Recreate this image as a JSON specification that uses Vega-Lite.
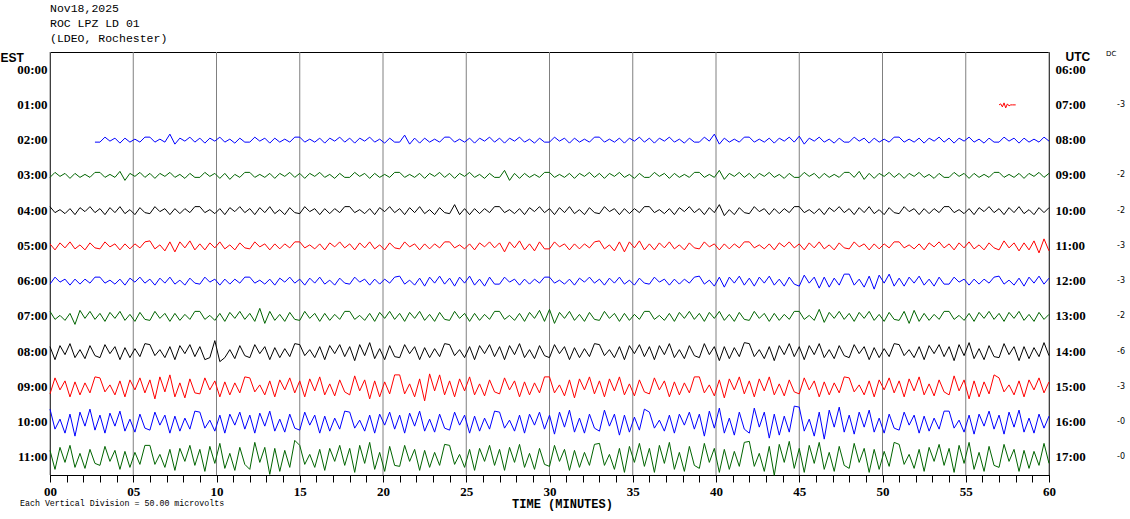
{
"$schema": "https://vega.github.io/schema/vega-lite/v6.json",
"width": 999, "height": 423,
"autosize": {"type": "none"},
"padding": {"left": 50, "top": 52, "right": 81, "bottom": 44},
"background": "white",
"config": {"view": {"stroke": "black", "strokeWidth": 1}},
"title": {"text": ["Nov18,2025", "ROC LPZ LD 01", "(LDEO, Rochester)"], "anchor": "start", "frame": "group", "font": "Liberation Mono", "fontSize": 11.5, "fontWeight": "normal", "lineHeight": 15, "offset": 5, "color": "black"},
"datasets": {
"grid": [{"t":0},{"t":5},{"t":10},{"t":15},{"t":20},{"t":25},{"t":30},{"t":35},{"t":40},{"t":45},{"t":50},{"t":55},{"t":60}],
"r1": [{"t":57,"v":0},{"t":57.1,"v":1},{"t":57.2,"v":-2},{"t":57.3,"v":2},{"t":57.4,"v":-3},{"t":57.5,"v":1},{"t":57.6,"v":-1},{"t":57.7,"v":0},{"t":57.8,"v":0},{"t":58,"v":0}],
"r2": [{"t":2.7,"v":-2},
{"t":3,"v":-2},{"t":3.3,"v":3},{"t":3.6,"v":-1},{"t":3.9,"v":2},{"t":4.2,"v":-3},{"t":4.5,"v":2},{"t":4.8,"v":-2},{"t":5.1,"v":1},{"t":5.4,"v":-2},{"t":5.7,"v":3},
{"t":6,"v":3},{"t":6.3,"v":-2},{"t":6.6,"v":1},{"t":6.9,"v":-2},{"t":7.2,"v":6},{"t":7.5,"v":-4},{"t":7.8,"v":2},{"t":8.1,"v":-1},{"t":8.4,"v":3},{"t":8.7,"v":-2},
{"t":9,"v":2},{"t":9.3,"v":-3},{"t":9.6,"v":2},{"t":9.9,"v":-1},{"t":10.2,"v":3},{"t":10.5,"v":-2},{"t":10.8,"v":1},{"t":11.1,"v":-3},{"t":11.4,"v":2},{"t":11.7,"v":-2},
{"t":12,"v":-2},{"t":12.3,"v":3},{"t":12.6,"v":-1},{"t":12.9,"v":2},{"t":13.2,"v":-3},{"t":13.5,"v":2},{"t":13.8,"v":-2},{"t":14.1,"v":1},{"t":14.4,"v":-2},{"t":14.7,"v":3},
{"t":15,"v":3},{"t":15.3,"v":-2},{"t":15.6,"v":1},{"t":15.9,"v":-2},{"t":16.2,"v":2},{"t":16.5,"v":-3},{"t":16.8,"v":2},{"t":17.1,"v":-1},{"t":17.4,"v":3},{"t":17.7,"v":-2},
{"t":18,"v":2},{"t":18.3,"v":-3},{"t":18.6,"v":2},{"t":18.9,"v":-1},{"t":19.2,"v":3},{"t":19.5,"v":-2},{"t":19.8,"v":1},{"t":20.1,"v":-3},{"t":20.4,"v":2},{"t":20.7,"v":-2},
{"t":21,"v":-2},{"t":21.3,"v":5},{"t":21.6,"v":-4},{"t":21.9,"v":2},{"t":22.2,"v":-3},{"t":22.5,"v":2},{"t":22.8,"v":-2},{"t":23.1,"v":1},{"t":23.4,"v":-2},{"t":23.7,"v":3},
{"t":24,"v":3},{"t":24.3,"v":-2},{"t":24.6,"v":1},{"t":24.9,"v":-2},{"t":25.2,"v":2},{"t":25.5,"v":-3},{"t":25.8,"v":2},{"t":26.1,"v":-1},{"t":26.4,"v":3},{"t":26.7,"v":-2},
{"t":27,"v":2},{"t":27.3,"v":-3},{"t":27.6,"v":2},{"t":27.9,"v":-1},{"t":28.2,"v":3},{"t":28.5,"v":-2},{"t":28.8,"v":1},{"t":29.1,"v":-3},{"t":29.4,"v":2},{"t":29.7,"v":-2},
{"t":30,"v":-2},{"t":30.3,"v":3},{"t":30.6,"v":-1},{"t":30.9,"v":2},{"t":31.2,"v":-3},{"t":31.5,"v":2},{"t":31.8,"v":-2},{"t":32.1,"v":1},{"t":32.4,"v":-2},{"t":32.7,"v":3},
{"t":33,"v":3},{"t":33.3,"v":-2},{"t":33.6,"v":1},{"t":33.9,"v":-2},{"t":34.2,"v":2},{"t":34.5,"v":-3},{"t":34.8,"v":2},{"t":35.1,"v":-1},{"t":35.4,"v":3},{"t":35.7,"v":-2},
{"t":36,"v":2},{"t":36.3,"v":-3},{"t":36.6,"v":2},{"t":36.9,"v":-1},{"t":37.2,"v":3},{"t":37.5,"v":-2},{"t":37.8,"v":1},{"t":38.1,"v":-3},{"t":38.4,"v":2},{"t":38.7,"v":-2},
{"t":39,"v":-2},{"t":39.3,"v":3},{"t":39.6,"v":-1},{"t":39.9,"v":6},{"t":40.2,"v":-4},{"t":40.5,"v":2},{"t":40.8,"v":-2},{"t":41.1,"v":1},{"t":41.4,"v":-2},{"t":41.7,"v":3},
{"t":42,"v":3},{"t":42.3,"v":-2},{"t":42.6,"v":1},{"t":42.9,"v":-2},{"t":43.2,"v":2},{"t":43.5,"v":-3},{"t":43.8,"v":2},{"t":44.1,"v":-1},{"t":44.4,"v":3},{"t":44.7,"v":-2},
{"t":45,"v":4},{"t":45.3,"v":-4},{"t":45.6,"v":2},{"t":45.9,"v":-1},{"t":46.2,"v":3},{"t":46.5,"v":-2},{"t":46.8,"v":1},{"t":47.1,"v":-3},{"t":47.4,"v":2},{"t":47.7,"v":-2},
{"t":48,"v":-2},{"t":48.3,"v":3},{"t":48.6,"v":-1},{"t":48.9,"v":2},{"t":49.2,"v":-3},{"t":49.5,"v":2},{"t":49.8,"v":-2},{"t":50.1,"v":1},{"t":50.4,"v":-2},{"t":50.7,"v":3},
{"t":51,"v":3},{"t":51.3,"v":-2},{"t":51.6,"v":1},{"t":51.9,"v":-2},{"t":52.2,"v":2},{"t":52.5,"v":-3},{"t":52.8,"v":2},{"t":53.1,"v":-1},{"t":53.4,"v":3},{"t":53.7,"v":-2},
{"t":54,"v":2},{"t":54.3,"v":-3},{"t":54.6,"v":2},{"t":54.9,"v":-1},{"t":55.2,"v":3},{"t":55.5,"v":-2},{"t":55.8,"v":1},{"t":56.1,"v":-3},{"t":56.4,"v":2},{"t":56.7,"v":-2},
{"t":57,"v":-2},{"t":57.3,"v":3},{"t":57.6,"v":-1},{"t":57.9,"v":2},{"t":58.2,"v":-3},{"t":58.5,"v":2},{"t":58.8,"v":-2},{"t":59.1,"v":1},{"t":59.4,"v":-2},{"t":59.7,"v":3},
{"t":60,"v":-1}],
"r3": [
{"t":0,"v":-2},{"t":0.3,"v":3},{"t":0.6,"v":-1},{"t":0.9,"v":2},{"t":1.2,"v":-3},{"t":1.5,"v":2},{"t":1.8,"v":-2},{"t":2.1,"v":1},{"t":2.4,"v":-2},{"t":2.7,"v":3},
{"t":3,"v":3},{"t":3.3,"v":-2},{"t":3.6,"v":1},{"t":3.9,"v":-2},{"t":4.2,"v":4},{"t":4.5,"v":-5},{"t":4.8,"v":2},{"t":5.1,"v":-1},{"t":5.4,"v":3},{"t":5.7,"v":-2},
{"t":6,"v":2},{"t":6.3,"v":-3},{"t":6.6,"v":2},{"t":6.9,"v":-1},{"t":7.2,"v":3},{"t":7.5,"v":-2},{"t":7.8,"v":1},{"t":8.1,"v":-3},{"t":8.4,"v":2},{"t":8.7,"v":-2},
{"t":9,"v":-2},{"t":9.3,"v":3},{"t":9.6,"v":-1},{"t":9.9,"v":2},{"t":10.2,"v":-3},{"t":10.5,"v":2},{"t":10.8,"v":-4},{"t":11.1,"v":1},{"t":11.4,"v":-2},{"t":11.7,"v":3},
{"t":12,"v":3},{"t":12.3,"v":-2},{"t":12.6,"v":1},{"t":12.9,"v":-2},{"t":13.2,"v":2},{"t":13.5,"v":-3},{"t":13.8,"v":2},{"t":14.1,"v":-1},{"t":14.4,"v":3},{"t":14.7,"v":-2},
{"t":15,"v":2},{"t":15.3,"v":-3},{"t":15.6,"v":2},{"t":15.9,"v":-1},{"t":16.2,"v":3},{"t":16.5,"v":-2},{"t":16.8,"v":1},{"t":17.1,"v":-3},{"t":17.4,"v":2},{"t":17.7,"v":-2},
{"t":18,"v":-2},{"t":18.3,"v":3},{"t":18.6,"v":-1},{"t":18.9,"v":2},{"t":19.2,"v":-3},{"t":19.5,"v":2},{"t":19.8,"v":-2},{"t":20.1,"v":1},{"t":20.4,"v":-2},{"t":20.7,"v":3},
{"t":21,"v":3},{"t":21.3,"v":-2},{"t":21.6,"v":1},{"t":21.9,"v":-2},{"t":22.2,"v":2},{"t":22.5,"v":-3},{"t":22.8,"v":2},{"t":23.1,"v":-1},{"t":23.4,"v":3},{"t":23.7,"v":-2},
{"t":24,"v":2},{"t":24.3,"v":-3},{"t":24.6,"v":2},{"t":24.9,"v":-1},{"t":25.2,"v":3},{"t":25.5,"v":-2},{"t":25.8,"v":1},{"t":26.1,"v":-3},{"t":26.4,"v":2},{"t":26.7,"v":-2},
{"t":27,"v":-2},{"t":27.3,"v":5},{"t":27.6,"v":-5},{"t":27.9,"v":2},{"t":28.2,"v":-3},{"t":28.5,"v":2},{"t":28.8,"v":-2},{"t":29.1,"v":1},{"t":29.4,"v":-2},{"t":29.7,"v":3},
{"t":30,"v":3},{"t":30.3,"v":-2},{"t":30.6,"v":1},{"t":30.9,"v":-2},{"t":31.2,"v":2},{"t":31.5,"v":-3},{"t":31.8,"v":2},{"t":32.1,"v":-1},{"t":32.4,"v":3},{"t":32.7,"v":-2},
{"t":33,"v":2},{"t":33.3,"v":-3},{"t":33.6,"v":2},{"t":33.9,"v":-1},{"t":34.2,"v":3},{"t":34.5,"v":-2},{"t":34.8,"v":1},{"t":35.1,"v":-3},{"t":35.4,"v":2},{"t":35.7,"v":-2},
{"t":36,"v":-2},{"t":36.3,"v":3},{"t":36.6,"v":-1},{"t":36.9,"v":2},{"t":37.2,"v":-3},{"t":37.5,"v":2},{"t":37.8,"v":-2},{"t":38.1,"v":1},{"t":38.4,"v":-2},{"t":38.7,"v":3},
{"t":39,"v":3},{"t":39.3,"v":-2},{"t":39.6,"v":1},{"t":39.9,"v":-2},{"t":40.2,"v":5},{"t":40.5,"v":-4},{"t":40.8,"v":2},{"t":41.1,"v":-1},{"t":41.4,"v":3},{"t":41.7,"v":-2},
{"t":42,"v":2},{"t":42.3,"v":-3},{"t":42.6,"v":2},{"t":42.9,"v":-1},{"t":43.2,"v":3},{"t":43.5,"v":-2},{"t":43.8,"v":1},{"t":44.1,"v":-3},{"t":44.4,"v":2},{"t":44.7,"v":-2},
{"t":45,"v":-2},{"t":45.3,"v":3},{"t":45.6,"v":-1},{"t":45.9,"v":2},{"t":46.2,"v":-3},{"t":46.5,"v":2},{"t":46.8,"v":-2},{"t":47.1,"v":1},{"t":47.4,"v":-2},{"t":47.7,"v":3},
{"t":48,"v":3},{"t":48.3,"v":-2},{"t":48.6,"v":4},{"t":48.9,"v":-4},{"t":49.2,"v":2},{"t":49.5,"v":-3},{"t":49.8,"v":2},{"t":50.1,"v":-1},{"t":50.4,"v":3},{"t":50.7,"v":-2},
{"t":51,"v":2},{"t":51.3,"v":-3},{"t":51.6,"v":2},{"t":51.9,"v":-1},{"t":52.2,"v":3},{"t":52.5,"v":-2},{"t":52.8,"v":1},{"t":53.1,"v":-3},{"t":53.4,"v":2},{"t":53.7,"v":-2},
{"t":54,"v":-2},{"t":54.3,"v":3},{"t":54.6,"v":-1},{"t":54.9,"v":2},{"t":55.2,"v":-3},{"t":55.5,"v":2},{"t":55.8,"v":-2},{"t":56.1,"v":1},{"t":56.4,"v":-2},{"t":56.7,"v":3},
{"t":57,"v":3},{"t":57.3,"v":-2},{"t":57.6,"v":1},{"t":57.9,"v":-2},{"t":58.2,"v":2},{"t":58.5,"v":-3},{"t":58.8,"v":2},{"t":59.1,"v":-1},{"t":59.4,"v":3},{"t":59.7,"v":-2},
{"t":60,"v":2}],
"r4": [
{"t":0,"v":4},{"t":0.3,"v":-2},{"t":0.6,"v":1},{"t":0.9,"v":-3},{"t":1.2,"v":2},{"t":1.5,"v":-4},{"t":1.8,"v":3},{"t":2.1,"v":-1},{"t":2.4,"v":4},{"t":2.7,"v":-2},
{"t":3,"v":2},{"t":3.3,"v":-4},{"t":3.6,"v":3},{"t":3.9,"v":-2},{"t":4.2,"v":4},{"t":4.5,"v":-3},{"t":4.8,"v":1},{"t":5.1,"v":-4},{"t":5.4,"v":3},{"t":5.7,"v":-2},
{"t":6,"v":-3},{"t":6.3,"v":4},{"t":6.6,"v":-1},{"t":6.9,"v":2},{"t":7.2,"v":-4},{"t":7.5,"v":2},{"t":7.8,"v":-3},{"t":8.1,"v":2},{"t":8.4,"v":-2},{"t":8.7,"v":4},
{"t":9,"v":4},{"t":9.3,"v":-2},{"t":9.6,"v":1},{"t":9.9,"v":-3},{"t":10.2,"v":2},{"t":10.5,"v":-4},{"t":10.8,"v":3},{"t":11.1,"v":-1},{"t":11.4,"v":4},{"t":11.7,"v":-2},
{"t":12,"v":2},{"t":12.3,"v":-4},{"t":12.6,"v":3},{"t":12.9,"v":-2},{"t":13.2,"v":4},{"t":13.5,"v":-3},{"t":13.8,"v":1},{"t":14.1,"v":-4},{"t":14.4,"v":3},{"t":14.7,"v":-2},
{"t":15,"v":-3},{"t":15.3,"v":4},{"t":15.6,"v":-1},{"t":15.9,"v":2},{"t":16.2,"v":-4},{"t":16.5,"v":2},{"t":16.8,"v":-3},{"t":17.1,"v":2},{"t":17.4,"v":-2},{"t":17.7,"v":4},
{"t":18,"v":4},{"t":18.3,"v":-2},{"t":18.6,"v":1},{"t":18.9,"v":-3},{"t":19.2,"v":2},{"t":19.5,"v":-4},{"t":19.8,"v":3},{"t":20.1,"v":-1},{"t":20.4,"v":4},{"t":20.7,"v":-2},
{"t":21,"v":2},{"t":21.3,"v":-4},{"t":21.6,"v":3},{"t":21.9,"v":-2},{"t":22.2,"v":4},{"t":22.5,"v":-3},{"t":22.8,"v":1},{"t":23.1,"v":-4},{"t":23.4,"v":3},{"t":23.7,"v":-2},
{"t":24,"v":-3},{"t":24.3,"v":6},{"t":24.6,"v":-4},{"t":24.9,"v":2},{"t":25.2,"v":-4},{"t":25.5,"v":2},{"t":25.8,"v":-3},{"t":26.1,"v":2},{"t":26.4,"v":-2},{"t":26.7,"v":4},
{"t":27,"v":4},{"t":27.3,"v":-2},{"t":27.6,"v":1},{"t":27.9,"v":-3},{"t":28.2,"v":2},{"t":28.5,"v":-4},{"t":28.8,"v":3},{"t":29.1,"v":-1},{"t":29.4,"v":4},{"t":29.7,"v":-2},
{"t":30,"v":2},{"t":30.3,"v":-4},{"t":30.6,"v":3},{"t":30.9,"v":-2},{"t":31.2,"v":4},{"t":31.5,"v":-3},{"t":31.8,"v":1},{"t":32.1,"v":-4},{"t":32.4,"v":3},{"t":32.7,"v":-2},
{"t":33,"v":-3},{"t":33.3,"v":4},{"t":33.6,"v":-1},{"t":33.9,"v":2},{"t":34.2,"v":-4},{"t":34.5,"v":2},{"t":34.8,"v":-3},{"t":35.1,"v":2},{"t":35.4,"v":-2},{"t":35.7,"v":4},
{"t":36,"v":4},{"t":36.3,"v":-2},{"t":36.6,"v":1},{"t":36.9,"v":-3},{"t":37.2,"v":2},{"t":37.5,"v":-4},{"t":37.8,"v":3},{"t":38.1,"v":-1},{"t":38.4,"v":4},{"t":38.7,"v":-2},
{"t":39,"v":2},{"t":39.3,"v":-4},{"t":39.6,"v":3},{"t":39.9,"v":-2},{"t":40.2,"v":6},{"t":40.5,"v":-5},{"t":40.8,"v":1},{"t":41.1,"v":-4},{"t":41.4,"v":3},{"t":41.7,"v":-2},
{"t":42,"v":-3},{"t":42.3,"v":4},{"t":42.6,"v":-1},{"t":42.9,"v":2},{"t":43.2,"v":-4},{"t":43.5,"v":2},{"t":43.8,"v":-3},{"t":44.1,"v":2},{"t":44.4,"v":-2},{"t":44.7,"v":4},
{"t":45,"v":4},{"t":45.3,"v":-2},{"t":45.6,"v":1},{"t":45.9,"v":-3},{"t":46.2,"v":2},{"t":46.5,"v":-4},{"t":46.8,"v":3},{"t":47.1,"v":-1},{"t":47.4,"v":4},{"t":47.7,"v":-2},
{"t":48,"v":2},{"t":48.3,"v":-4},{"t":48.6,"v":3},{"t":48.9,"v":-2},{"t":49.2,"v":4},{"t":49.5,"v":-3},{"t":49.8,"v":1},{"t":50.1,"v":-4},{"t":50.4,"v":3},{"t":50.7,"v":-2},
{"t":51,"v":-3},{"t":51.3,"v":4},{"t":51.6,"v":-1},{"t":51.9,"v":2},{"t":52.2,"v":-4},{"t":52.5,"v":2},{"t":52.8,"v":-3},{"t":53.1,"v":2},{"t":53.4,"v":-2},{"t":53.7,"v":4},
{"t":54,"v":4},{"t":54.3,"v":-2},{"t":54.6,"v":1},{"t":54.9,"v":-3},{"t":55.2,"v":2},{"t":55.5,"v":-4},{"t":55.8,"v":3},{"t":56.1,"v":-1},{"t":56.4,"v":4},{"t":56.7,"v":-2},
{"t":57,"v":2},{"t":57.3,"v":-4},{"t":57.6,"v":3},{"t":57.9,"v":-2},{"t":58.2,"v":4},{"t":58.5,"v":-3},{"t":58.8,"v":1},{"t":59.1,"v":-4},{"t":59.4,"v":3},{"t":59.7,"v":-2},
{"t":60,"v":3}],
"r5": [
{"t":0,"v":2},{"t":0.3,"v":-4},{"t":0.6,"v":3},{"t":0.9,"v":-2},{"t":1.2,"v":4},{"t":1.5,"v":-3},{"t":1.8,"v":1},{"t":2.1,"v":-4},{"t":2.4,"v":3},{"t":2.7,"v":-2},
{"t":3,"v":-3},{"t":3.3,"v":4},{"t":3.6,"v":-1},{"t":3.9,"v":2},{"t":4.2,"v":-4},{"t":4.5,"v":2},{"t":4.8,"v":-3},{"t":5.1,"v":2},{"t":5.4,"v":-2},{"t":5.7,"v":4},
{"t":6,"v":5},{"t":6.3,"v":-3},{"t":6.6,"v":1},{"t":6.9,"v":-5},{"t":7.2,"v":4},{"t":7.5,"v":-6},{"t":7.8,"v":4},{"t":8.1,"v":-2},{"t":8.4,"v":5},{"t":8.7,"v":-4},
{"t":9,"v":2},{"t":9.3,"v":-4},{"t":9.6,"v":3},{"t":9.9,"v":-2},{"t":10.2,"v":4},{"t":10.5,"v":-3},{"t":10.8,"v":1},{"t":11.1,"v":-4},{"t":11.4,"v":3},{"t":11.7,"v":-2},
{"t":12,"v":-3},{"t":12.3,"v":4},{"t":12.6,"v":-1},{"t":12.9,"v":2},{"t":13.2,"v":-4},{"t":13.5,"v":2},{"t":13.8,"v":-3},{"t":14.1,"v":2},{"t":14.4,"v":-2},{"t":14.7,"v":4},
{"t":15,"v":4},{"t":15.3,"v":-2},{"t":15.6,"v":1},{"t":15.9,"v":-3},{"t":16.2,"v":2},{"t":16.5,"v":-4},{"t":16.8,"v":3},{"t":17.1,"v":-1},{"t":17.4,"v":4},{"t":17.7,"v":-2},
{"t":18,"v":2},{"t":18.3,"v":-4},{"t":18.6,"v":3},{"t":18.9,"v":-2},{"t":19.2,"v":4},{"t":19.5,"v":-3},{"t":19.8,"v":1},{"t":20.1,"v":-4},{"t":20.4,"v":3},{"t":20.7,"v":-2},
{"t":21,"v":-3},{"t":21.3,"v":4},{"t":21.6,"v":-1},{"t":21.9,"v":2},{"t":22.2,"v":-4},{"t":22.5,"v":2},{"t":22.8,"v":-3},{"t":23.1,"v":2},{"t":23.4,"v":-2},{"t":23.7,"v":4},
{"t":24,"v":4},{"t":24.3,"v":-2},{"t":24.6,"v":1},{"t":24.9,"v":-3},{"t":25.2,"v":2},{"t":25.5,"v":-4},{"t":25.8,"v":3},{"t":26.1,"v":-1},{"t":26.4,"v":4},{"t":26.7,"v":-2},
{"t":27,"v":3},{"t":27.3,"v":-6},{"t":27.6,"v":4},{"t":27.9,"v":-2},{"t":28.2,"v":5},{"t":28.5,"v":-4},{"t":28.8,"v":2},{"t":29.1,"v":-5},{"t":29.4,"v":4},{"t":29.7,"v":-3},
{"t":30,"v":-3},{"t":30.3,"v":4},{"t":30.6,"v":-1},{"t":30.9,"v":2},{"t":31.2,"v":-4},{"t":31.5,"v":2},{"t":31.8,"v":-3},{"t":32.1,"v":2},{"t":32.4,"v":-2},{"t":32.7,"v":4},
{"t":33,"v":5},{"t":33.3,"v":-3},{"t":33.6,"v":1},{"t":33.9,"v":-5},{"t":34.2,"v":4},{"t":34.5,"v":-6},{"t":34.8,"v":4},{"t":35.1,"v":-2},{"t":35.4,"v":5},{"t":35.7,"v":-4},
{"t":36,"v":2},{"t":36.3,"v":-4},{"t":36.6,"v":3},{"t":36.9,"v":-2},{"t":37.2,"v":4},{"t":37.5,"v":-3},{"t":37.8,"v":1},{"t":38.1,"v":-4},{"t":38.4,"v":3},{"t":38.7,"v":-2},
{"t":39,"v":-3},{"t":39.3,"v":4},{"t":39.6,"v":-1},{"t":39.9,"v":2},{"t":40.2,"v":-4},{"t":40.5,"v":2},{"t":40.8,"v":-3},{"t":41.1,"v":2},{"t":41.4,"v":-2},{"t":41.7,"v":4},
{"t":42,"v":4},{"t":42.3,"v":-2},{"t":42.6,"v":1},{"t":42.9,"v":-3},{"t":43.2,"v":2},{"t":43.5,"v":-4},{"t":43.8,"v":3},{"t":44.1,"v":-1},{"t":44.4,"v":4},{"t":44.7,"v":-2},
{"t":45,"v":2},{"t":45.3,"v":-4},{"t":45.6,"v":3},{"t":45.9,"v":-2},{"t":46.2,"v":4},{"t":46.5,"v":-3},{"t":46.8,"v":1},{"t":47.1,"v":-4},{"t":47.4,"v":3},{"t":47.7,"v":-2},
{"t":48,"v":-3},{"t":48.3,"v":4},{"t":48.6,"v":-1},{"t":48.9,"v":2},{"t":49.2,"v":-4},{"t":49.5,"v":2},{"t":49.8,"v":-3},{"t":50.1,"v":2},{"t":50.4,"v":-2},{"t":50.7,"v":4},
{"t":51,"v":4},{"t":51.3,"v":-2},{"t":51.6,"v":1},{"t":51.9,"v":-3},{"t":52.2,"v":2},{"t":52.5,"v":-4},{"t":52.8,"v":3},{"t":53.1,"v":-1},{"t":53.4,"v":4},{"t":53.7,"v":-2},
{"t":54,"v":2},{"t":54.3,"v":-4},{"t":54.6,"v":3},{"t":54.9,"v":-2},{"t":55.2,"v":4},{"t":55.5,"v":-3},{"t":55.8,"v":1},{"t":56.1,"v":-4},{"t":56.4,"v":3},{"t":56.7,"v":-2},
{"t":57,"v":-4},{"t":57.3,"v":5},{"t":57.6,"v":-2},{"t":57.9,"v":3},{"t":58.2,"v":-5},{"t":58.5,"v":3},{"t":58.8,"v":-4},{"t":59.1,"v":5},{"t":59.4,"v":-7},{"t":59.7,"v":7},
{"t":60,"v":-5}],
"r6": [
{"t":0,"v":-3},{"t":0.3,"v":4},{"t":0.6,"v":-1},{"t":0.9,"v":2},{"t":1.2,"v":-4},{"t":1.5,"v":2},{"t":1.8,"v":-3},{"t":2.1,"v":2},{"t":2.4,"v":-2},{"t":2.7,"v":4},
{"t":3,"v":4},{"t":3.3,"v":-2},{"t":3.6,"v":1},{"t":3.9,"v":-3},{"t":4.2,"v":2},{"t":4.5,"v":-4},{"t":4.8,"v":3},{"t":5.1,"v":-1},{"t":5.4,"v":4},{"t":5.7,"v":-2},
{"t":6,"v":2},{"t":6.3,"v":-4},{"t":6.6,"v":3},{"t":6.9,"v":-2},{"t":7.2,"v":4},{"t":7.5,"v":-3},{"t":7.8,"v":1},{"t":8.1,"v":-4},{"t":8.4,"v":3},{"t":8.7,"v":-2},
{"t":9,"v":-3},{"t":9.3,"v":4},{"t":9.6,"v":-1},{"t":9.9,"v":2},{"t":10.2,"v":-4},{"t":10.5,"v":2},{"t":10.8,"v":-3},{"t":11.1,"v":2},{"t":11.4,"v":-2},{"t":11.7,"v":4},
{"t":12,"v":4},{"t":12.3,"v":-2},{"t":12.6,"v":1},{"t":12.9,"v":-3},{"t":13.2,"v":2},{"t":13.5,"v":-4},{"t":13.8,"v":3},{"t":14.1,"v":-1},{"t":14.4,"v":4},{"t":14.7,"v":-2},
{"t":15,"v":2},{"t":15.3,"v":-4},{"t":15.6,"v":3},{"t":15.9,"v":-2},{"t":16.2,"v":4},{"t":16.5,"v":-3},{"t":16.8,"v":1},{"t":17.1,"v":-4},{"t":17.4,"v":3},{"t":17.7,"v":-2},
{"t":18,"v":-3},{"t":18.3,"v":4},{"t":18.6,"v":-1},{"t":18.9,"v":2},{"t":19.2,"v":-4},{"t":19.5,"v":2},{"t":19.8,"v":-3},{"t":20.1,"v":2},{"t":20.4,"v":-2},{"t":20.7,"v":4},
{"t":21,"v":5},{"t":21.3,"v":-3},{"t":21.6,"v":1},{"t":21.9,"v":-4},{"t":22.2,"v":3},{"t":22.5,"v":-5},{"t":22.8,"v":4},{"t":23.1,"v":-2},{"t":23.4,"v":5},{"t":23.7,"v":-3},
{"t":24,"v":3},{"t":24.3,"v":-5},{"t":24.6,"v":4},{"t":24.9,"v":-2},{"t":25.2,"v":5},{"t":25.5,"v":-4},{"t":25.8,"v":2},{"t":26.1,"v":-5},{"t":26.4,"v":4},{"t":26.7,"v":-3},
{"t":27,"v":-3},{"t":27.3,"v":4},{"t":27.6,"v":-1},{"t":27.9,"v":2},{"t":28.2,"v":-4},{"t":28.5,"v":2},{"t":28.8,"v":-3},{"t":29.1,"v":2},{"t":29.4,"v":-2},{"t":29.7,"v":4},
{"t":30,"v":4},{"t":30.3,"v":-2},{"t":30.6,"v":1},{"t":30.9,"v":-3},{"t":31.2,"v":2},{"t":31.5,"v":-4},{"t":31.8,"v":3},{"t":32.1,"v":-1},{"t":32.4,"v":4},{"t":32.7,"v":-2},
{"t":33,"v":2},{"t":33.3,"v":-4},{"t":33.6,"v":3},{"t":33.9,"v":-2},{"t":34.2,"v":4},{"t":34.5,"v":-3},{"t":34.8,"v":1},{"t":35.1,"v":-4},{"t":35.4,"v":3},{"t":35.7,"v":-2},
{"t":36,"v":-3},{"t":36.3,"v":4},{"t":36.6,"v":-1},{"t":36.9,"v":2},{"t":37.2,"v":-4},{"t":37.5,"v":2},{"t":37.8,"v":-3},{"t":38.1,"v":2},{"t":38.4,"v":-2},{"t":38.7,"v":4},
{"t":39,"v":5},{"t":39.3,"v":-3},{"t":39.6,"v":1},{"t":39.9,"v":-5},{"t":40.2,"v":4},{"t":40.5,"v":-6},{"t":40.8,"v":4},{"t":41.1,"v":-2},{"t":41.4,"v":5},{"t":41.7,"v":-4},
{"t":42,"v":3},{"t":42.3,"v":-5},{"t":42.6,"v":4},{"t":42.9,"v":-2},{"t":43.2,"v":5},{"t":43.5,"v":-4},{"t":43.8,"v":2},{"t":44.1,"v":-5},{"t":44.4,"v":4},{"t":44.7,"v":-3},
{"t":45,"v":-5},{"t":45.3,"v":6},{"t":45.6,"v":-2},{"t":45.9,"v":4},{"t":46.2,"v":-7},{"t":46.5,"v":4},{"t":46.8,"v":-6},{"t":47.1,"v":3},{"t":47.4,"v":-4},{"t":47.7,"v":7},
{"t":48,"v":7},{"t":48.3,"v":-4},{"t":48.6,"v":2},{"t":48.9,"v":-6},{"t":49.2,"v":5},{"t":49.5,"v":-8},{"t":49.8,"v":6},{"t":50.1,"v":-2},{"t":50.4,"v":7},{"t":50.7,"v":-5},
{"t":51,"v":3},{"t":51.3,"v":-5},{"t":51.6,"v":4},{"t":51.9,"v":-2},{"t":52.2,"v":5},{"t":52.5,"v":-4},{"t":52.8,"v":2},{"t":53.1,"v":-5},{"t":53.4,"v":4},{"t":53.7,"v":-3},
{"t":54,"v":-3},{"t":54.3,"v":4},{"t":54.6,"v":-1},{"t":54.9,"v":2},{"t":55.2,"v":-4},{"t":55.5,"v":2},{"t":55.8,"v":-3},{"t":56.1,"v":2},{"t":56.4,"v":-2},{"t":56.7,"v":4},
{"t":57,"v":5},{"t":57.3,"v":-3},{"t":57.6,"v":1},{"t":57.9,"v":-4},{"t":58.2,"v":3},{"t":58.5,"v":-5},{"t":58.8,"v":4},{"t":59.1,"v":-2},{"t":59.4,"v":5},{"t":59.7,"v":-3},
{"t":60,"v":3}],
"r7": [
{"t":0,"v":5},{"t":0.3,"v":-3},{"t":0.6,"v":1},{"t":0.9,"v":-4},{"t":1.2,"v":3},{"t":1.5,"v":-8},{"t":1.8,"v":6},{"t":2.1,"v":-2},{"t":2.4,"v":5},{"t":2.7,"v":-3},
{"t":3,"v":3},{"t":3.3,"v":-5},{"t":3.6,"v":4},{"t":3.9,"v":-2},{"t":4.2,"v":5},{"t":4.5,"v":-4},{"t":4.8,"v":2},{"t":5.1,"v":-5},{"t":5.4,"v":4},{"t":5.7,"v":-3},
{"t":6,"v":-4},{"t":6.3,"v":5},{"t":6.6,"v":-2},{"t":6.9,"v":3},{"t":7.2,"v":-5},{"t":7.5,"v":3},{"t":7.8,"v":-4},{"t":8.1,"v":2},{"t":8.4,"v":-3},{"t":8.7,"v":5},
{"t":9,"v":5},{"t":9.3,"v":-3},{"t":9.6,"v":1},{"t":9.9,"v":-4},{"t":10.2,"v":3},{"t":10.5,"v":-5},{"t":10.8,"v":4},{"t":11.1,"v":-2},{"t":11.4,"v":5},{"t":11.7,"v":-3},
{"t":12,"v":3},{"t":12.3,"v":-5},{"t":12.6,"v":8},{"t":12.9,"v":-7},{"t":13.2,"v":5},{"t":13.5,"v":-4},{"t":13.8,"v":2},{"t":14.1,"v":-5},{"t":14.4,"v":4},{"t":14.7,"v":-3},
{"t":15,"v":-4},{"t":15.3,"v":5},{"t":15.6,"v":-2},{"t":15.9,"v":3},{"t":16.2,"v":-5},{"t":16.5,"v":3},{"t":16.8,"v":-4},{"t":17.1,"v":2},{"t":17.4,"v":-3},{"t":17.7,"v":5},
{"t":18,"v":5},{"t":18.3,"v":-3},{"t":18.6,"v":1},{"t":18.9,"v":-4},{"t":19.2,"v":3},{"t":19.5,"v":-5},{"t":19.8,"v":4},{"t":20.1,"v":-2},{"t":20.4,"v":5},{"t":20.7,"v":-3},
{"t":21,"v":3},{"t":21.3,"v":-5},{"t":21.6,"v":4},{"t":21.9,"v":-2},{"t":22.2,"v":5},{"t":22.5,"v":-4},{"t":22.8,"v":2},{"t":23.1,"v":-5},{"t":23.4,"v":4},{"t":23.7,"v":-3},
{"t":24,"v":-4},{"t":24.3,"v":5},{"t":24.6,"v":-2},{"t":24.9,"v":3},{"t":25.2,"v":-5},{"t":25.5,"v":3},{"t":25.8,"v":-4},{"t":26.1,"v":2},{"t":26.4,"v":-3},{"t":26.7,"v":5},
{"t":27,"v":5},{"t":27.3,"v":-3},{"t":27.6,"v":1},{"t":27.9,"v":-4},{"t":28.2,"v":3},{"t":28.5,"v":-5},{"t":28.8,"v":4},{"t":29.1,"v":-2},{"t":29.4,"v":6},{"t":29.7,"v":-5},
{"t":30,"v":7},{"t":30.3,"v":-7},{"t":30.6,"v":4},{"t":30.9,"v":-2},{"t":31.2,"v":5},{"t":31.5,"v":-4},{"t":31.8,"v":2},{"t":32.1,"v":-5},{"t":32.4,"v":4},{"t":32.7,"v":-3},
{"t":33,"v":-4},{"t":33.3,"v":5},{"t":33.6,"v":-2},{"t":33.9,"v":3},{"t":34.2,"v":-5},{"t":34.5,"v":3},{"t":34.8,"v":-4},{"t":35.1,"v":2},{"t":35.4,"v":-3},{"t":35.7,"v":5},
{"t":36,"v":5},{"t":36.3,"v":-3},{"t":36.6,"v":1},{"t":36.9,"v":-4},{"t":37.2,"v":3},{"t":37.5,"v":-5},{"t":37.8,"v":4},{"t":38.1,"v":-2},{"t":38.4,"v":5},{"t":38.7,"v":-3},
{"t":39,"v":3},{"t":39.3,"v":-5},{"t":39.6,"v":4},{"t":39.9,"v":-2},{"t":40.2,"v":5},{"t":40.5,"v":-4},{"t":40.8,"v":2},{"t":41.1,"v":-5},{"t":41.4,"v":4},{"t":41.7,"v":-3},
{"t":42,"v":-4},{"t":42.3,"v":5},{"t":42.6,"v":-2},{"t":42.9,"v":3},{"t":43.2,"v":-5},{"t":43.5,"v":3},{"t":43.8,"v":-4},{"t":44.1,"v":2},{"t":44.4,"v":-3},{"t":44.7,"v":5},
{"t":45,"v":5},{"t":45.3,"v":-3},{"t":45.6,"v":1},{"t":45.9,"v":-4},{"t":46.2,"v":7},{"t":46.5,"v":-6},{"t":46.8,"v":4},{"t":47.1,"v":-2},{"t":47.4,"v":5},{"t":47.7,"v":-3},
{"t":48,"v":3},{"t":48.3,"v":-5},{"t":48.6,"v":4},{"t":48.9,"v":-2},{"t":49.2,"v":5},{"t":49.5,"v":-4},{"t":49.8,"v":2},{"t":50.1,"v":-5},{"t":50.4,"v":4},{"t":50.7,"v":-3},
{"t":51,"v":-4},{"t":51.3,"v":5},{"t":51.6,"v":-7},{"t":51.9,"v":6},{"t":52.2,"v":-5},{"t":52.5,"v":3},{"t":52.8,"v":-4},{"t":53.1,"v":2},{"t":53.4,"v":-3},{"t":53.7,"v":5},
{"t":54,"v":5},{"t":54.3,"v":-3},{"t":54.6,"v":1},{"t":54.9,"v":-4},{"t":55.2,"v":3},{"t":55.5,"v":-5},{"t":55.8,"v":4},{"t":56.1,"v":-2},{"t":56.4,"v":5},{"t":56.7,"v":-3},
{"t":57,"v":3},{"t":57.3,"v":-5},{"t":57.6,"v":4},{"t":57.9,"v":-2},{"t":58.2,"v":5},{"t":58.5,"v":-4},{"t":58.8,"v":2},{"t":59.1,"v":-5},{"t":59.4,"v":4},{"t":59.7,"v":-3},
{"t":60,"v":2}],
"r8": [
{"t":0,"v":5},{"t":0.3,"v":-8},{"t":0.6,"v":6},{"t":0.9,"v":-3},{"t":1.2,"v":8},{"t":1.5,"v":-6},{"t":1.8,"v":2},{"t":2.1,"v":-7},{"t":2.4,"v":6},{"t":2.7,"v":-4},
{"t":3,"v":-6},{"t":3.3,"v":7},{"t":3.6,"v":-2},{"t":3.9,"v":5},{"t":4.2,"v":-8},{"t":4.5,"v":4},{"t":4.8,"v":-6},{"t":5.1,"v":3},{"t":5.4,"v":-5},{"t":5.7,"v":8},
{"t":6,"v":7},{"t":6.3,"v":-4},{"t":6.6,"v":2},{"t":6.9,"v":-6},{"t":7.2,"v":5},{"t":7.5,"v":-8},{"t":7.8,"v":6},{"t":8.1,"v":-2},{"t":8.4,"v":7},{"t":8.7,"v":-5},
{"t":9,"v":5},{"t":9.3,"v":-8},{"t":9.6,"v":-6},{"t":9.9,"v":11},{"t":10.2,"v":-10},{"t":10.5,"v":-6},{"t":10.8,"v":2},{"t":11.1,"v":-7},{"t":11.4,"v":6},{"t":11.7,"v":-4},
{"t":12,"v":-6},{"t":12.3,"v":7},{"t":12.6,"v":-2},{"t":12.9,"v":5},{"t":13.2,"v":-8},{"t":13.5,"v":4},{"t":13.8,"v":-6},{"t":14.1,"v":3},{"t":14.4,"v":-5},{"t":14.7,"v":8},
{"t":15,"v":7},{"t":15.3,"v":-4},{"t":15.6,"v":2},{"t":15.9,"v":-6},{"t":16.2,"v":5},{"t":16.5,"v":-8},{"t":16.8,"v":6},{"t":17.1,"v":-2},{"t":17.4,"v":7},{"t":17.7,"v":-5},
{"t":18,"v":5},{"t":18.3,"v":-9},{"t":18.6,"v":7},{"t":18.9,"v":-4},{"t":19.2,"v":9},{"t":19.5,"v":-7},{"t":19.8,"v":3},{"t":20.1,"v":-8},{"t":20.4,"v":6},{"t":20.7,"v":-5},
{"t":21,"v":-6},{"t":21.3,"v":7},{"t":21.6,"v":-2},{"t":21.9,"v":5},{"t":22.2,"v":-8},{"t":22.5,"v":4},{"t":22.8,"v":-6},{"t":23.1,"v":3},{"t":23.4,"v":-5},{"t":23.7,"v":8},
{"t":24,"v":7},{"t":24.3,"v":-4},{"t":24.6,"v":2},{"t":24.9,"v":-6},{"t":25.2,"v":5},{"t":25.5,"v":-8},{"t":25.8,"v":6},{"t":26.1,"v":-2},{"t":26.4,"v":7},{"t":26.7,"v":-5},
{"t":27,"v":5},{"t":27.3,"v":-8},{"t":27.6,"v":6},{"t":27.9,"v":-3},{"t":28.2,"v":8},{"t":28.5,"v":-6},{"t":28.8,"v":2},{"t":29.1,"v":-7},{"t":29.4,"v":6},{"t":29.7,"v":-4},
{"t":30,"v":-6},{"t":30.3,"v":7},{"t":30.6,"v":-2},{"t":30.9,"v":5},{"t":31.2,"v":-8},{"t":31.5,"v":4},{"t":31.8,"v":-6},{"t":32.1,"v":3},{"t":32.4,"v":-5},{"t":32.7,"v":8},
{"t":33,"v":7},{"t":33.3,"v":-4},{"t":33.6,"v":2},{"t":33.9,"v":-6},{"t":34.2,"v":5},{"t":34.5,"v":-8},{"t":34.8,"v":6},{"t":35.1,"v":-2},{"t":35.4,"v":7},{"t":35.7,"v":-5},
{"t":36,"v":5},{"t":36.3,"v":-8},{"t":36.6,"v":6},{"t":36.9,"v":-3},{"t":37.2,"v":8},{"t":37.5,"v":-6},{"t":37.8,"v":2},{"t":38.1,"v":-7},{"t":38.4,"v":6},{"t":38.7,"v":-4},
{"t":39,"v":-6},{"t":39.3,"v":8},{"t":39.6,"v":-3},{"t":39.9,"v":5},{"t":40.2,"v":-9},{"t":40.5,"v":5},{"t":40.8,"v":-7},{"t":41.1,"v":4},{"t":41.4,"v":-5},{"t":41.7,"v":9},
{"t":42,"v":8},{"t":42.3,"v":-5},{"t":42.6,"v":2},{"t":42.9,"v":-7},{"t":43.2,"v":5},{"t":43.5,"v":-9},{"t":43.8,"v":6},{"t":44.1,"v":-3},{"t":44.4,"v":8},{"t":44.7,"v":-5},
{"t":45,"v":5},{"t":45.3,"v":-8},{"t":45.6,"v":6},{"t":45.9,"v":-3},{"t":46.2,"v":8},{"t":46.5,"v":-6},{"t":46.8,"v":2},{"t":47.1,"v":-7},{"t":47.4,"v":6},{"t":47.7,"v":-4},
{"t":48,"v":-6},{"t":48.3,"v":7},{"t":48.6,"v":-2},{"t":48.9,"v":5},{"t":49.2,"v":-8},{"t":49.5,"v":4},{"t":49.8,"v":-6},{"t":50.1,"v":3},{"t":50.4,"v":-5},{"t":50.7,"v":8},
{"t":51,"v":7},{"t":51.3,"v":-4},{"t":51.6,"v":2},{"t":51.9,"v":-6},{"t":52.2,"v":5},{"t":52.5,"v":-8},{"t":52.8,"v":6},{"t":53.1,"v":-2},{"t":53.4,"v":7},{"t":53.7,"v":-5},
{"t":54,"v":5},{"t":54.3,"v":-9},{"t":54.6,"v":7},{"t":54.9,"v":-4},{"t":55.2,"v":9},{"t":55.5,"v":-7},{"t":55.8,"v":3},{"t":56.1,"v":-8},{"t":56.4,"v":6},{"t":56.7,"v":-5},
{"t":57,"v":-6},{"t":57.3,"v":8},{"t":57.6,"v":-3},{"t":57.9,"v":5},{"t":58.2,"v":-9},{"t":58.5,"v":5},{"t":58.8,"v":-7},{"t":59.1,"v":4},{"t":59.4,"v":-5},{"t":59.7,"v":9},
{"t":60,"v":-4}],
"r9": [
{"t":0,"v":-7},{"t":0.3,"v":9},{"t":0.6,"v":-3},{"t":0.9,"v":6},{"t":1.2,"v":-10},{"t":1.5,"v":5},{"t":1.8,"v":-8},{"t":2.1,"v":4},{"t":2.4,"v":-6},{"t":2.7,"v":10},
{"t":3,"v":9},{"t":3.3,"v":-5},{"t":3.6,"v":2},{"t":3.9,"v":-8},{"t":4.2,"v":6},{"t":4.5,"v":-10},{"t":4.8,"v":7},{"t":5.1,"v":-3},{"t":5.4,"v":9},{"t":5.7,"v":-6},
{"t":6,"v":7},{"t":6.3,"v":-12},{"t":6.6,"v":10},{"t":6.9,"v":-5},{"t":7.2,"v":12},{"t":7.5,"v":-10},{"t":7.8,"v":4},{"t":8.1,"v":-11},{"t":8.4,"v":8},{"t":8.7,"v":-6},
{"t":9,"v":-7},{"t":9.3,"v":9},{"t":9.6,"v":-3},{"t":9.9,"v":6},{"t":10.2,"v":-10},{"t":10.5,"v":5},{"t":10.8,"v":-8},{"t":11.1,"v":4},{"t":11.4,"v":-6},{"t":11.7,"v":10},
{"t":12,"v":9},{"t":12.3,"v":-5},{"t":12.6,"v":2},{"t":12.9,"v":-8},{"t":13.2,"v":6},{"t":13.5,"v":-10},{"t":13.8,"v":7},{"t":14.1,"v":-3},{"t":14.4,"v":9},{"t":14.7,"v":-6},
{"t":15,"v":6},{"t":15.3,"v":-10},{"t":15.6,"v":8},{"t":15.9,"v":-4},{"t":16.2,"v":10},{"t":16.5,"v":-8},{"t":16.8,"v":3},{"t":17.1,"v":-9},{"t":17.4,"v":7},{"t":17.7,"v":-5},
{"t":18,"v":-8},{"t":18.3,"v":11},{"t":18.6,"v":-4},{"t":18.9,"v":7},{"t":19.2,"v":-12},{"t":19.5,"v":6},{"t":19.8,"v":-10},{"t":20.1,"v":5},{"t":20.4,"v":-7},{"t":20.7,"v":12},
{"t":21,"v":12},{"t":21.3,"v":-7},{"t":21.6,"v":3},{"t":21.9,"v":-10},{"t":22.2,"v":8},{"t":22.5,"v":-14},{"t":22.8,"v":13},{"t":23.1,"v":-4},{"t":23.4,"v":12},{"t":23.7,"v":-8},
{"t":24,"v":6},{"t":24.3,"v":-10},{"t":24.6,"v":8},{"t":24.9,"v":-4},{"t":25.2,"v":10},{"t":25.5,"v":-8},{"t":25.8,"v":3},{"t":26.1,"v":-9},{"t":26.4,"v":7},{"t":26.7,"v":-5},
{"t":27,"v":-7},{"t":27.3,"v":9},{"t":27.6,"v":-3},{"t":27.9,"v":6},{"t":28.2,"v":-10},{"t":28.5,"v":5},{"t":28.8,"v":-8},{"t":29.1,"v":4},{"t":29.4,"v":-6},{"t":29.7,"v":10},
{"t":30,"v":10},{"t":30.3,"v":-6},{"t":30.6,"v":2},{"t":30.9,"v":-9},{"t":31.2,"v":7},{"t":31.5,"v":-11},{"t":31.8,"v":8},{"t":32.1,"v":-3},{"t":32.4,"v":10},{"t":32.7,"v":-7},
{"t":33,"v":6},{"t":33.3,"v":-10},{"t":33.6,"v":8},{"t":33.9,"v":-4},{"t":34.2,"v":10},{"t":34.5,"v":-8},{"t":34.8,"v":3},{"t":35.1,"v":-9},{"t":35.4,"v":7},{"t":35.7,"v":-5},
{"t":36,"v":-7},{"t":36.3,"v":9},{"t":36.6,"v":-3},{"t":36.9,"v":6},{"t":37.2,"v":-10},{"t":37.5,"v":5},{"t":37.8,"v":-8},{"t":38.1,"v":4},{"t":38.4,"v":-6},{"t":38.7,"v":10},
{"t":39,"v":10},{"t":39.3,"v":-6},{"t":39.6,"v":2},{"t":39.9,"v":-9},{"t":40.2,"v":7},{"t":40.5,"v":-11},{"t":40.8,"v":8},{"t":41.1,"v":-3},{"t":41.4,"v":10},{"t":41.7,"v":-7},
{"t":42,"v":6},{"t":42.3,"v":-10},{"t":42.6,"v":8},{"t":42.9,"v":-4},{"t":43.2,"v":10},{"t":43.5,"v":-8},{"t":43.8,"v":3},{"t":44.1,"v":-9},{"t":44.4,"v":7},{"t":44.7,"v":-5},
{"t":45,"v":-7},{"t":45.3,"v":9},{"t":45.6,"v":-3},{"t":45.9,"v":6},{"t":46.2,"v":-10},{"t":46.5,"v":5},{"t":46.8,"v":-8},{"t":47.1,"v":4},{"t":47.4,"v":-6},{"t":47.7,"v":10},
{"t":48,"v":9},{"t":48.3,"v":-5},{"t":48.6,"v":2},{"t":48.9,"v":-8},{"t":49.2,"v":6},{"t":49.5,"v":-10},{"t":49.8,"v":7},{"t":50.1,"v":-3},{"t":50.4,"v":9},{"t":50.7,"v":-6},
{"t":51,"v":6},{"t":51.3,"v":-10},{"t":51.6,"v":8},{"t":51.9,"v":-4},{"t":52.2,"v":10},{"t":52.5,"v":-8},{"t":52.8,"v":3},{"t":53.1,"v":-9},{"t":53.4,"v":7},{"t":53.7,"v":-5},
{"t":54,"v":-8},{"t":54.3,"v":11},{"t":54.6,"v":-4},{"t":54.9,"v":7},{"t":55.2,"v":-12},{"t":55.5,"v":6},{"t":55.8,"v":-10},{"t":56.1,"v":5},{"t":56.4,"v":-7},{"t":56.7,"v":12},
{"t":57,"v":9},{"t":57.3,"v":-5},{"t":57.6,"v":2},{"t":57.9,"v":-8},{"t":58.2,"v":6},{"t":58.5,"v":-10},{"t":58.8,"v":7},{"t":59.1,"v":-3},{"t":59.4,"v":9},{"t":59.7,"v":-6},
{"t":60,"v":5}],
"r10": [
{"t":0,"v":13},{"t":0.3,"v":-7},{"t":0.6,"v":3},{"t":0.9,"v":-11},{"t":1.2,"v":8},{"t":1.5,"v":-14},{"t":1.8,"v":10},{"t":2.1,"v":-4},{"t":2.4,"v":13},{"t":2.7,"v":-8},
{"t":3,"v":7},{"t":3.3,"v":-11},{"t":3.6,"v":9},{"t":3.9,"v":-4},{"t":4.2,"v":11},{"t":4.5,"v":-9},{"t":4.8,"v":3},{"t":5.1,"v":-10},{"t":5.4,"v":8},{"t":5.7,"v":-6},
{"t":6,"v":-8},{"t":6.3,"v":10},{"t":6.6,"v":-3},{"t":6.9,"v":7},{"t":7.2,"v":-11},{"t":7.5,"v":6},{"t":7.8,"v":-9},{"t":8.1,"v":4},{"t":8.4,"v":-7},{"t":8.7,"v":11},
{"t":9,"v":10},{"t":9.3,"v":-6},{"t":9.6,"v":2},{"t":9.9,"v":-9},{"t":10.2,"v":7},{"t":10.5,"v":-11},{"t":10.8,"v":8},{"t":11.1,"v":-3},{"t":11.4,"v":10},{"t":11.7,"v":-7},
{"t":12,"v":7},{"t":12.3,"v":-11},{"t":12.6,"v":9},{"t":12.9,"v":-4},{"t":13.2,"v":11},{"t":13.5,"v":-9},{"t":13.8,"v":3},{"t":14.1,"v":-10},{"t":14.4,"v":8},{"t":14.7,"v":-6},
{"t":15,"v":-8},{"t":15.3,"v":10},{"t":15.6,"v":-3},{"t":15.9,"v":7},{"t":16.2,"v":-11},{"t":16.5,"v":6},{"t":16.8,"v":-9},{"t":17.1,"v":4},{"t":17.4,"v":-7},{"t":17.7,"v":11},
{"t":18,"v":10},{"t":18.3,"v":-6},{"t":18.6,"v":2},{"t":18.9,"v":-9},{"t":19.2,"v":7},{"t":19.5,"v":-11},{"t":19.8,"v":8},{"t":20.1,"v":-3},{"t":20.4,"v":10},{"t":20.7,"v":-7},
{"t":21,"v":7},{"t":21.3,"v":-11},{"t":21.6,"v":9},{"t":21.9,"v":-4},{"t":22.2,"v":11},{"t":22.5,"v":-9},{"t":22.8,"v":3},{"t":23.1,"v":-10},{"t":23.4,"v":8},{"t":23.7,"v":-6},
{"t":24,"v":-8},{"t":24.3,"v":10},{"t":24.6,"v":-3},{"t":24.9,"v":7},{"t":25.2,"v":-11},{"t":25.5,"v":6},{"t":25.8,"v":-9},{"t":26.1,"v":4},{"t":26.4,"v":-7},{"t":26.7,"v":11},
{"t":27,"v":10},{"t":27.3,"v":-6},{"t":27.6,"v":2},{"t":27.9,"v":-9},{"t":28.2,"v":7},{"t":28.5,"v":-11},{"t":28.8,"v":8},{"t":29.1,"v":-3},{"t":29.4,"v":10},{"t":29.7,"v":-7},
{"t":30,"v":7},{"t":30.3,"v":-12},{"t":30.6,"v":10},{"t":30.9,"v":-5},{"t":31.2,"v":12},{"t":31.5,"v":-10},{"t":31.8,"v":4},{"t":32.1,"v":-11},{"t":32.4,"v":8},{"t":32.7,"v":-6},
{"t":33,"v":-9},{"t":33.3,"v":12},{"t":33.6,"v":-4},{"t":33.9,"v":8},{"t":34.2,"v":-13},{"t":34.5,"v":7},{"t":34.8,"v":-10},{"t":35.1,"v":5},{"t":35.4,"v":-8},{"t":35.7,"v":13},
{"t":36,"v":10},{"t":36.3,"v":-6},{"t":36.6,"v":2},{"t":36.9,"v":-9},{"t":37.2,"v":7},{"t":37.5,"v":-11},{"t":37.8,"v":8},{"t":38.1,"v":-3},{"t":38.4,"v":10},{"t":38.7,"v":-7},
{"t":39,"v":8},{"t":39.3,"v":-14},{"t":39.6,"v":11},{"t":39.9,"v":-6},{"t":40.2,"v":14},{"t":40.5,"v":-11},{"t":40.8,"v":4},{"t":41.1,"v":-13},{"t":41.4,"v":10},{"t":41.7,"v":-7},
{"t":42,"v":-11},{"t":42.3,"v":14},{"t":42.6,"v":-5},{"t":42.9,"v":10},{"t":43.2,"v":-16},{"t":43.5,"v":8},{"t":43.8,"v":-13},{"t":44.1,"v":6},{"t":44.4,"v":-10},{"t":44.7,"v":16},
{"t":45,"v":15},{"t":45.3,"v":-9},{"t":45.6,"v":3},{"t":45.9,"v":-14},{"t":46.2,"v":10},{"t":46.5,"v":-17},{"t":46.8,"v":12},{"t":47.1,"v":-5},{"t":47.4,"v":15},{"t":47.7,"v":-10},
{"t":48,"v":7},{"t":48.3,"v":-12},{"t":48.6,"v":10},{"t":48.9,"v":-5},{"t":49.2,"v":12},{"t":49.5,"v":-10},{"t":49.8,"v":4},{"t":50.1,"v":-11},{"t":50.4,"v":8},{"t":50.7,"v":-6},
{"t":51,"v":-8},{"t":51.3,"v":10},{"t":51.6,"v":-3},{"t":51.9,"v":7},{"t":52.2,"v":-11},{"t":52.5,"v":6},{"t":52.8,"v":-9},{"t":53.1,"v":4},{"t":53.4,"v":-7},{"t":53.7,"v":11},
{"t":54,"v":11},{"t":54.3,"v":-6},{"t":54.6,"v":2},{"t":54.9,"v":-10},{"t":55.2,"v":7},{"t":55.5,"v":-12},{"t":55.8,"v":8},{"t":56.1,"v":-4},{"t":56.4,"v":11},{"t":56.7,"v":-7},
{"t":57,"v":7},{"t":57.3,"v":-12},{"t":57.6,"v":10},{"t":57.9,"v":-5},{"t":58.2,"v":12},{"t":58.5,"v":-10},{"t":58.8,"v":4},{"t":59.1,"v":-11},{"t":59.4,"v":8},{"t":59.7,"v":-6},
{"t":60,"v":6}],
"r11": [
{"t":0,"v":7},{"t":0.3,"v":-12},{"t":0.6,"v":10},{"t":0.9,"v":-5},{"t":1.2,"v":12},{"t":1.5,"v":-10},{"t":1.8,"v":4},{"t":2.1,"v":-11},{"t":2.4,"v":8},{"t":2.7,"v":-6},
{"t":3,"v":-8},{"t":3.3,"v":11},{"t":3.6,"v":-4},{"t":3.9,"v":7},{"t":4.2,"v":-12},{"t":4.5,"v":6},{"t":4.8,"v":-10},{"t":5.1,"v":5},{"t":5.4,"v":-7},{"t":5.7,"v":12},
{"t":6,"v":12},{"t":6.3,"v":-7},{"t":6.6,"v":3},{"t":6.9,"v":-10},{"t":7.2,"v":8},{"t":7.5,"v":-13},{"t":7.8,"v":9},{"t":8.1,"v":-4},{"t":8.4,"v":12},{"t":8.7,"v":-8},
{"t":9,"v":8},{"t":9.3,"v":-14},{"t":9.6,"v":11},{"t":9.9,"v":-6},{"t":10.2,"v":14},{"t":10.5,"v":-11},{"t":10.8,"v":4},{"t":11.1,"v":-13},{"t":11.4,"v":10},{"t":11.7,"v":-7},
{"t":12,"v":-12},{"t":12.3,"v":15},{"t":12.6,"v":-5},{"t":12.9,"v":10},{"t":13.2,"v":-17},{"t":13.5,"v":9},{"t":13.8,"v":-14},{"t":14.1,"v":7},{"t":14.4,"v":-10},{"t":14.7,"v":17},
{"t":15,"v":12},{"t":15.3,"v":-7},{"t":15.6,"v":3},{"t":15.9,"v":-10},{"t":16.2,"v":8},{"t":16.5,"v":-13},{"t":16.8,"v":9},{"t":17.1,"v":-4},{"t":17.4,"v":12},{"t":17.7,"v":-8},
{"t":18,"v":9},{"t":18.3,"v":-15},{"t":18.6,"v":12},{"t":18.9,"v":-6},{"t":19.2,"v":15},{"t":19.5,"v":-12},{"t":19.8,"v":5},{"t":20.1,"v":-14},{"t":20.4,"v":11},{"t":20.7,"v":-8},
{"t":21,"v":-9},{"t":21.3,"v":12},{"t":21.6,"v":-4},{"t":21.9,"v":8},{"t":22.2,"v":-13},{"t":22.5,"v":7},{"t":22.8,"v":-10},{"t":23.1,"v":5},{"t":23.4,"v":-8},{"t":23.7,"v":13},
{"t":24,"v":12},{"t":24.3,"v":-7},{"t":24.6,"v":3},{"t":24.9,"v":-10},{"t":25.2,"v":8},{"t":25.5,"v":-13},{"t":25.8,"v":9},{"t":26.1,"v":-4},{"t":26.4,"v":12},{"t":26.7,"v":-8},
{"t":27,"v":8},{"t":27.3,"v":-13},{"t":27.6,"v":10},{"t":27.9,"v":-5},{"t":28.2,"v":13},{"t":28.5,"v":-10},{"t":28.8,"v":4},{"t":29.1,"v":-12},{"t":29.4,"v":9},{"t":29.7,"v":-7},
{"t":30,"v":-9},{"t":30.3,"v":12},{"t":30.6,"v":-4},{"t":30.9,"v":8},{"t":31.2,"v":-13},{"t":31.5,"v":7},{"t":31.8,"v":-10},{"t":32.1,"v":5},{"t":32.4,"v":-8},{"t":32.7,"v":13},
{"t":33,"v":14},{"t":33.3,"v":-8},{"t":33.6,"v":3},{"t":33.9,"v":-12},{"t":34.2,"v":9},{"t":34.5,"v":-15},{"t":34.8,"v":11},{"t":35.1,"v":-5},{"t":35.4,"v":14},{"t":35.7,"v":-9},
{"t":36,"v":9},{"t":36.3,"v":-15},{"t":36.6,"v":12},{"t":36.9,"v":-6},{"t":37.2,"v":15},{"t":37.5,"v":-12},{"t":37.8,"v":5},{"t":38.1,"v":-14},{"t":38.4,"v":11},{"t":38.7,"v":-8},
{"t":39,"v":-11},{"t":39.3,"v":14},{"t":39.6,"v":-5},{"t":39.9,"v":9},{"t":40.2,"v":-15},{"t":40.5,"v":8},{"t":40.8,"v":-12},{"t":41.1,"v":6},{"t":41.4,"v":-9},{"t":41.7,"v":15},
{"t":42,"v":16},{"t":42.3,"v":-9},{"t":42.6,"v":4},{"t":42.9,"v":-14},{"t":43.2,"v":11},{"t":43.5,"v":-18},{"t":43.8,"v":13},{"t":44.1,"v":-5},{"t":44.4,"v":16},{"t":44.7,"v":-11},
{"t":45,"v":9},{"t":45.3,"v":-15},{"t":45.6,"v":12},{"t":45.9,"v":-6},{"t":46.2,"v":15},{"t":46.5,"v":-12},{"t":46.8,"v":5},{"t":47.1,"v":-14},{"t":47.4,"v":11},{"t":47.7,"v":-8},
{"t":48,"v":-11},{"t":48.3,"v":14},{"t":48.6,"v":-5},{"t":48.9,"v":9},{"t":49.2,"v":-15},{"t":49.5,"v":8},{"t":49.8,"v":-12},{"t":50.1,"v":6},{"t":50.4,"v":-9},{"t":50.7,"v":15},
{"t":51,"v":13},{"t":51.3,"v":-7},{"t":51.6,"v":3},{"t":51.9,"v":-11},{"t":52.2,"v":8},{"t":52.5,"v":-14},{"t":52.8,"v":10},{"t":53.1,"v":-4},{"t":53.4,"v":13},{"t":53.7,"v":-8},
{"t":54,"v":9},{"t":54.3,"v":-15},{"t":54.6,"v":12},{"t":54.9,"v":-6},{"t":55.2,"v":15},{"t":55.5,"v":-12},{"t":55.8,"v":5},{"t":56.1,"v":-14},{"t":56.4,"v":11},{"t":56.7,"v":-8},
{"t":57,"v":-10},{"t":57.3,"v":13},{"t":57.6,"v":-4},{"t":57.9,"v":8},{"t":58.2,"v":-14},{"t":58.5,"v":7},{"t":58.8,"v":-11},{"t":59.1,"v":6},{"t":59.4,"v":-8},{"t":59.7,"v":14},
{"t":60,"v":-6}],
"dc": [
{"h":1,"dc":"-3","x":60},{"h":3,"dc":"-2","x":60},{"h":4,"dc":"-2","x":60},{"h":5,"dc":"-3","x":60},{"h":6,"dc":"-3","x":60},{"h":7,"dc":"-2","x":60},{"h":8,"dc":"-6","x":60},{"h":9,"dc":"-3","x":60},{"h":10,"dc":"-0","x":60},{"h":11,"dc":"-0","x":60}
],
"notes": [{"label":"DC","x":60,"h":0}],
"foot": [{"label":"Each Vertical Division =   50.00 microvolts","x":0,"h":11}]
},
"encoding": {
"x": {"field": "t", "type": "quantitative", "scale": {"domain": [0, 60], "nice": false, "zero": false}, "axis": null}
},
"resolve": {"scale": {"y": "independent"}, "axis": {"x": "independent", "y": "independent"}},
"layer": [
{
"data": {"name": "grid"},
"mark": {"type": "rule", "color": "#808080", "strokeWidth": 1},
"encoding": {
"x": {"field": "t", "type": "quantitative", "scale": {"domain": [0, 60], "nice": false, "zero": false},
 "axis": {"orient": "bottom", "values": [0,1,2,3,4,5,6,7,8,9,10,11,12,13,14,15,16,17,18,19,20,21,22,23,24,25,26,27,28,29,30,31,32,33,34,35,36,37,38,39,40,41,42,43,44,45,46,47,48,49,50,51,52,53,54,55,56,57,58,59,60],
  "labelExpr": "datum.value % 5 == 0 ? (datum.value < 10 ? '0' + datum.value : '' + datum.value) : ''",
  "labelOverlap": false, "labelBound": false, "labelFlush": false,
  "labelFont": "Liberation Serif", "labelFontWeight": "bold", "labelFontSize": 13, "labelColor": "black", "labelPadding": 3,
  "tickSize": 7, "tickColor": "black", "tickWidth": 1, "domainColor": "black", "domainWidth": 1, "grid": false,
  "title": "TIME (MINUTES)", "titleFont": "Liberation Mono", "titleFontWeight": "bold", "titleFontSize": 12, "titleColor": "black",
  "titleX": 512, "titleY": 28, "titleBaseline": "middle", "titleAlign": "center"}}
}
},
{"data": {"name": "r1"}, "mark": {"type": "line", "strokeWidth": 1, "clip": false, "color": "#ff0000"},
 "encoding": {"y": {"field": "v", "type": "quantitative", "scale": {"domain": [-370.125, 52.875], "nice": false, "zero": false}, "axis": null}}},
{"data": {"name": "r2"}, "mark": {"type": "line", "strokeWidth": 1, "clip": false, "color": "#0000ff"},
 "encoding": {"y": {"field": "v", "type": "quantitative", "scale": {"domain": [-334.875, 88.125], "nice": false, "zero": false}, "axis": null}}},
{"data": {"name": "r3"}, "mark": {"type": "line", "strokeWidth": 1, "clip": false, "color": "#006400"},
 "encoding": {"y": {"field": "v", "type": "quantitative", "scale": {"domain": [-299.625, 123.375], "nice": false, "zero": false}, "axis": null}}},
{"data": {"name": "r4"}, "mark": {"type": "line", "strokeWidth": 1, "clip": false, "color": "#000000"},
 "encoding": {"y": {"field": "v", "type": "quantitative", "scale": {"domain": [-264.375, 158.625], "nice": false, "zero": false}, "axis": null}}},
{"data": {"name": "r5"}, "mark": {"type": "line", "strokeWidth": 1, "clip": false, "color": "#ff0000"},
 "encoding": {"y": {"field": "v", "type": "quantitative", "scale": {"domain": [-229.125, 193.875], "nice": false, "zero": false}, "axis": null}}},
{"data": {"name": "r6"}, "mark": {"type": "line", "strokeWidth": 1, "clip": false, "color": "#0000ff"},
 "encoding": {"y": {"field": "v", "type": "quantitative", "scale": {"domain": [-193.875, 229.125], "nice": false, "zero": false}, "axis": null}}},
{"data": {"name": "r7"}, "mark": {"type": "line", "strokeWidth": 1, "clip": false, "color": "#006400"},
 "encoding": {"y": {"field": "v", "type": "quantitative", "scale": {"domain": [-158.625, 264.375], "nice": false, "zero": false}, "axis": null}}},
{"data": {"name": "r8"}, "mark": {"type": "line", "strokeWidth": 1, "clip": false, "color": "#000000"},
 "encoding": {"y": {"field": "v", "type": "quantitative", "scale": {"domain": [-123.375, 299.625], "nice": false, "zero": false}, "axis": null}}},
{"data": {"name": "r9"}, "mark": {"type": "line", "strokeWidth": 1, "clip": false, "color": "#ff0000"},
 "encoding": {"y": {"field": "v", "type": "quantitative", "scale": {"domain": [-88.125, 334.875], "nice": false, "zero": false}, "axis": null}}},
{"data": {"name": "r10"}, "mark": {"type": "line", "strokeWidth": 1, "clip": false, "color": "#0000ff"},
 "encoding": {"y": {"field": "v", "type": "quantitative", "scale": {"domain": [-52.875, 370.125], "nice": false, "zero": false}, "axis": null}}},
{"data": {"name": "r11"}, "mark": {"type": "line", "strokeWidth": 1, "clip": false, "color": "#006400"},
 "encoding": {"y": {"field": "v", "type": "quantitative", "scale": {"domain": [-17.625, 405.375], "nice": false, "zero": false}, "axis": null}}},
{
"data": {"name": "dc"},
"mark": {"type": "text", "align": "left", "baseline": "middle", "dx": 68, "font": "DejaVu Sans", "fontSize": 8, "color": "black"},
"encoding": {
"x": {"field": "x", "type": "quantitative", "axis": null},
"y": {"field": "h", "type": "ordinal",
 "scale": {"type": "band", "domain": [0,1,2,3,4,5,6,7,8,9,10,11], "paddingInner": 0, "paddingOuter": 0},
 "axis": {"orient": "right", "domain": false, "ticks": false, "grid": false,
  "labelExpr": "(datum.value + 6 < 10 ? '0' : '') + (datum.value + 6) + ':00'",
  "labelFont": "Liberation Serif", "labelFontWeight": "bold", "labelFontSize": 13, "labelColor": "black", "labelPadding": 6,
  "title": "UTC", "titleAngle": 0, "titleAlign": "left", "titleBaseline": "top", "titleX": 16, "titleY": -1,
  "titleFont": "Liberation Sans", "titleFontWeight": "bold", "titleFontSize": 12, "titleColor": "black"}},
"text": {"field": "dc", "type": "nominal"}
}
},
{
"data": {"name": "notes"},
"mark": {"type": "text", "align": "left", "baseline": "middle", "dx": 57, "dy": -16, "font": "DejaVu Sans", "fontSize": 7, "color": "black"},
"encoding": {
"x": {"field": "x", "type": "quantitative", "axis": null},
"y": {"field": "h", "type": "ordinal",
 "scale": {"type": "band", "domain": [0,1,2,3,4,5,6,7,8,9,10,11], "paddingInner": 0, "paddingOuter": 0},
 "axis": {"orient": "left", "domain": false, "ticks": false, "grid": false,
  "labelExpr": "(datum.value < 10 ? '0' : '') + datum.value + ':00'",
  "labelFont": "Liberation Serif", "labelFontWeight": "bold", "labelFontSize": 13, "labelColor": "black", "labelPadding": 3,
  "title": "EST", "titleAngle": 0, "titleAlign": "left", "titleBaseline": "top", "titleX": -50, "titleY": 0,
  "titleFont": "Liberation Sans", "titleFontWeight": "bold", "titleFontSize": 12, "titleColor": "black"}},
"text": {"field": "label", "type": "nominal"}
}
},
{
"data": {"name": "foot"},
"mark": {"type": "text", "align": "left", "baseline": "middle", "dx": -30, "dy": 47, "font": "Liberation Mono", "fontSize": 8.3, "color": "black"},
"encoding": {
"x": {"field": "x", "type": "quantitative", "axis": null},
"y": {"field": "h", "type": "ordinal",
 "scale": {"type": "band", "domain": [0,1,2,3,4,5,6,7,8,9,10,11], "paddingInner": 0, "paddingOuter": 0},
 "axis": null},
"text": {"field": "label", "type": "nominal"}
}
}
]
}
